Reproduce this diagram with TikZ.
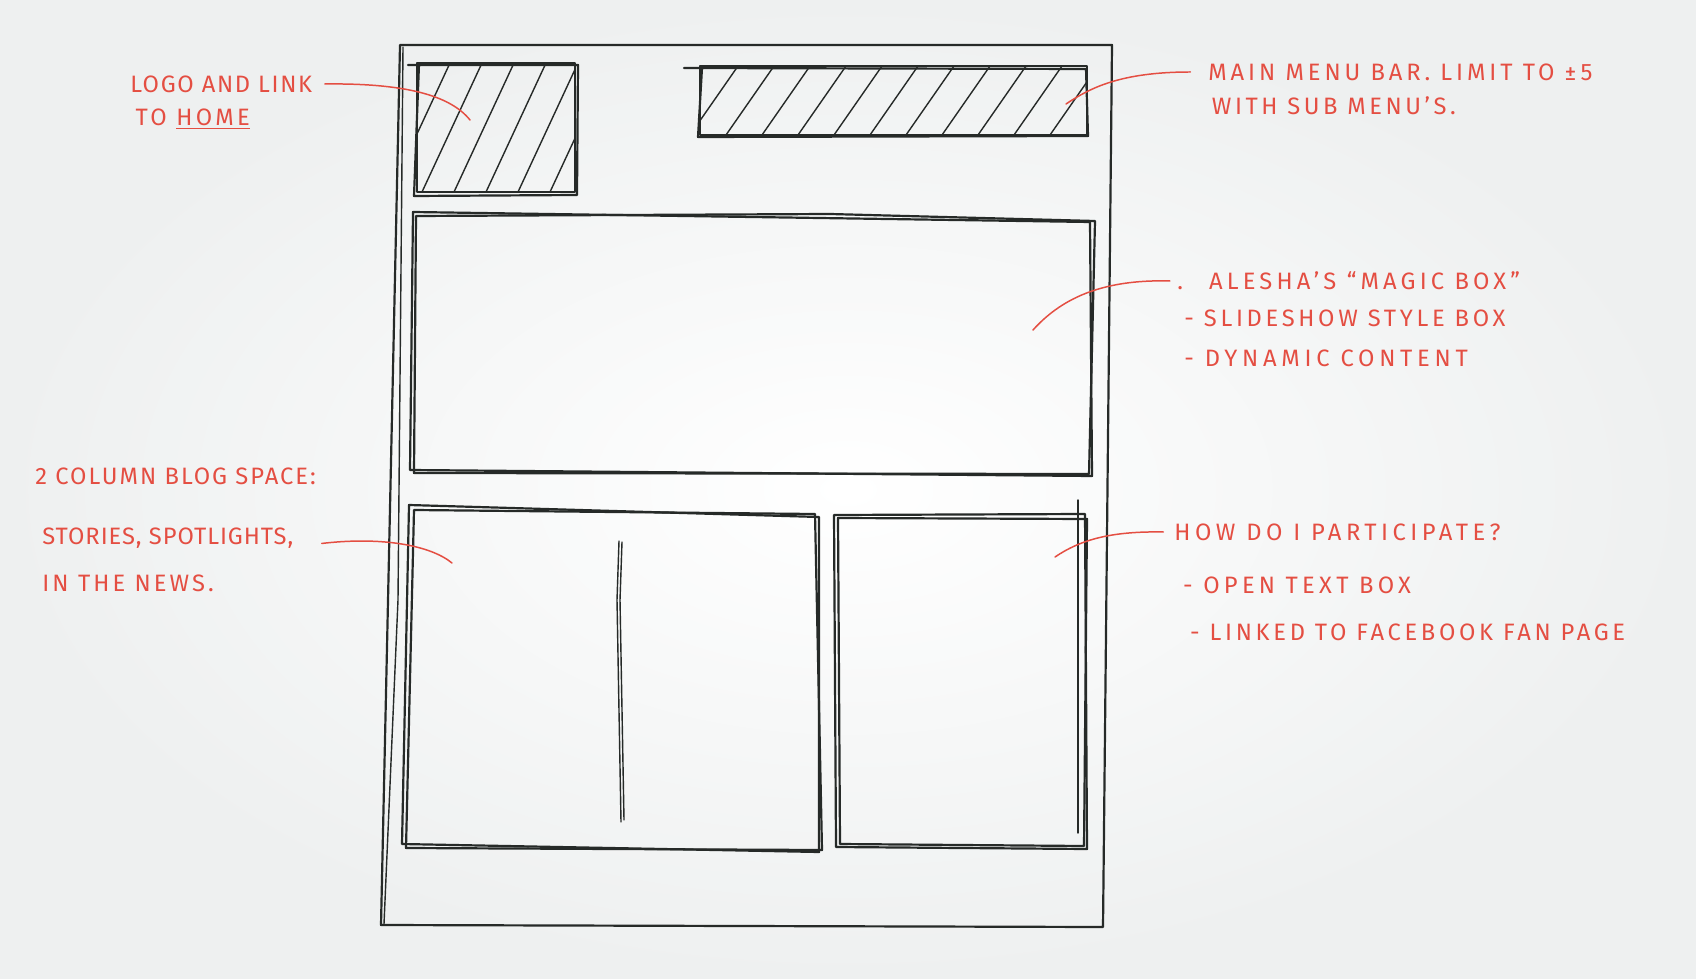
\documentclass[tikz,border=0pt]{standalone}
\usepackage{fontspec}
\setmainfont{Fira Sans}
\usetikzlibrary{positioning}
\definecolor{pen}{RGB}{228,78,66}
\definecolor{ink}{RGB}{38,42,40}
\definecolor{paper}{RGB}{238,240,240}

\begin{document}
\begin{tikzpicture}[
                x=0.02cm, y=-0.02cm,
                sketch/.style={draw=ink, line width=1.25pt, line join=round, line cap=round},
                hatch/.style={draw=ink, line width=0.8pt, line cap=round},
                note/.style={text=pen, font=\fontsize{13.5}{16}\selectfont\addfontfeature{LetterSpace=#1}, inner sep=0pt, anchor=west, text height=9.3pt, text depth=0pt},
                note/.default=14,
                lead/.style={draw=pen, line width=0.85pt, line cap=round}
            ]
            \useasboundingbox (0,0) rectangle (1696,979);
            \shade[inner color=white, outer color=paper] (0,0) rectangle (1696,979);

            \draw[sketch] (400,45) -- (1112,45) -- (1103,927) -- (381,925) -- cycle;
            \draw[sketch, line width=0.8pt] (403,47) -- (398,600) -- (384,924);

            \draw[sketch] (417,63) -- (575,63) -- (575,192) -- (417,192) -- cycle;
            \draw[sketch] (408,65) -- (578,65) -- (577,195) -- (414,196) -- (419,64);
            \begin{scope}
                \clip (417,63) rectangle (575,192);
                \foreach \x in {358,390,...,590}
                    \draw[hatch] (\x,192) -- (\x+60,63);
            \end{scope}

            \draw[sketch] (700,66) -- (1087,66) -- (1087,135) -- (700,135) -- cycle;
            \draw[sketch] (684,68) -- (1086,69) -- (1088,136) -- (698,137) -- (702,68);
            \begin{scope}
                \clip (700,66) rectangle (1087,135);
                \foreach \x in {654,690,...,1100}
                    \draw[hatch] (\x,135) -- (\x+48,66);
            \end{scope}

            \draw[sketch] (413,212) -- (1090,222) -- (1092,476) -- (410,470) -- cycle;
            \draw[sketch] (416,216) -- (830,214) -- (1095,221) -- (1089,474) -- (414,473) -- cycle;

            \draw[sketch] (409,505) -- (819,517) -- (819,852) -- (402,844) -- cycle;
            \draw[sketch] (414,510) -- (815,514) -- (822,850) -- (406,848) -- cycle;
            \draw[sketch, line width=0.8pt] (619,541) -- (617,600) -- (621,822);
            \draw[sketch, line width=0.8pt] (622,542) -- (620,600) -- (624,820);

            \draw[sketch] (834,515) -- (1085,514) -- (1087,849) -- (836,847) -- cycle;
            \draw[sketch] (838,518) -- (1087,519) -- (1084,846) -- (840,844) -- cycle;
            \draw[sketch, line width=0.8pt] (1078,500) -- (1078,833);

            \coordinate (logo-pin)  at (470,120);
            \coordinate (menu-pin)  at (1066,104);
            \coordinate (magic-pin) at (1033,330);
            \coordinate (blog-pin)  at (452,563);
            \coordinate (join-pin)  at (1055,557);

            \node[note=7] (logo1) at (130,84) {LOGO AND LINK};
            \node[note=14, below right=9.4pt and 3pt of logo1.south west] (logo2) {TO \underline{HOME}};

            \node[note=16.5] (menu1) at (1208,72) {MAIN MENU BAR. LIMIT TO ±5};
            \node[note=15, below right=10pt and 2pt of menu1.south west] (menu2) {WITH SUB MENU’S.};

            \node[note=17.5] (magic1) at (1177,281) {.\hspace{1.1em}ALESHA’S “MAGIC BOX”};
            \node[note=15.5, below right=11.7pt and 4pt of magic1.south west] (magic2) {- SLIDESHOW STYLE BOX};
            \node[note=20, below=12.8pt of magic2.south west, anchor=north west] (magic3) {- DYNAMIC CONTENT};

            \node[note=8.5] (blog1) at (35,476) {2 COLUMN BLOG SPACE:};
            \node[note=4, below right=24.7pt and 4pt of blog1.south west] (blog2) {STORIES, SPOTLIGHTS,};
            \node[note=13, below=16.8pt of blog2.south west, anchor=north west] (blog3) {IN THE NEWS.};

            \node[note=19] (join1) at (1174,532) {HOW DO I PARTICIPATE?};
            \node[note=18, below right=20.8pt and 5pt of join1.south west] (join2) {- OPEN TEXT BOX};
            \node[note=15.5, below right=16.8pt and 4pt of join2.south west] (join3) {- LINKED TO FACEBOOK FAN PAGE};

            \draw[lead] ([xshift=7pt]logo1.east) .. controls +(79,-1) and +(-20,-25) .. (logo-pin);
            \draw[lead] ([xshift=-10pt]menu1.west) .. controls +(-70,0) and +(24,-16) .. (menu-pin);
            \draw[lead] ([xshift=-4pt]magic1.west) .. controls +(-70,-2) and +(27,-30) .. (magic-pin);
            \draw[lead] ([shift={(16pt,-4pt)}]blog2.east) .. controls +(59,-7) and +(-22,-18) .. (blog-pin);
            \draw[lead] ([xshift=-6pt]join1.west) .. controls +(-53,-1) and +(25,-17) .. (join-pin);
        \end{tikzpicture}
\end{document}
